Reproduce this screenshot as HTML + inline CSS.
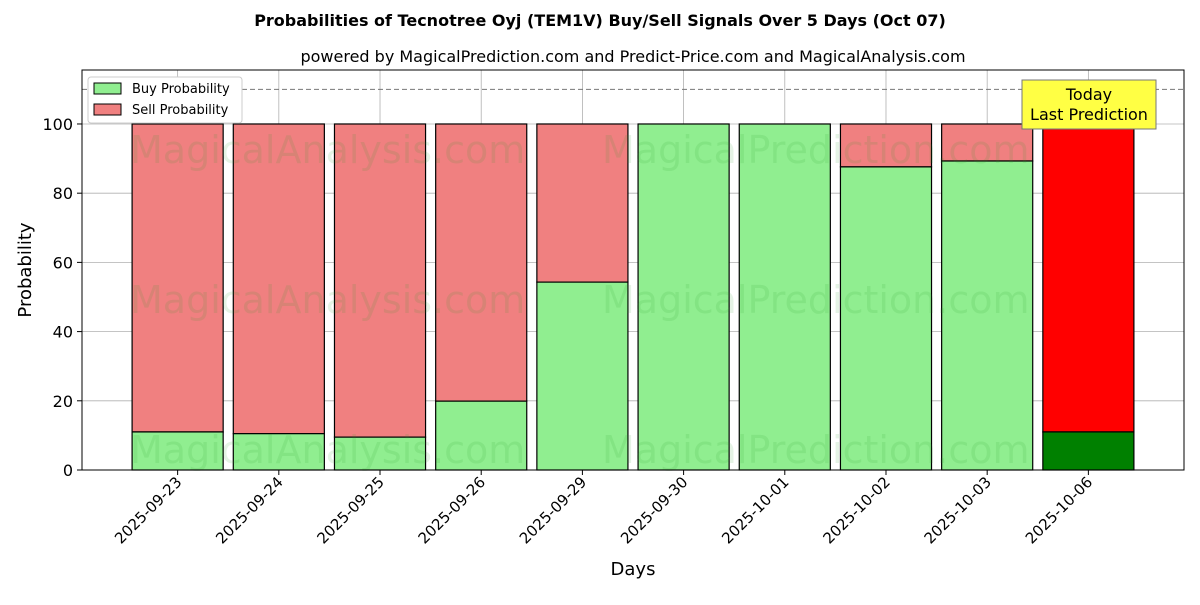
<!DOCTYPE html>
<html><head><meta charset="utf-8"><style>
body{margin:0;background:#fff;}
svg text{font-family:"DejaVu Sans","Liberation Sans",sans-serif;}
</style></head><body>
<svg id="chart" width="1200" height="600" xmlns="http://www.w3.org/2000/svg">
<rect width="1200" height="600" fill="#fff"/>
<text x="600" y="26" text-anchor="middle" font-size="16" font-weight="bold">Probabilities of Tecnotree Oyj (TEM1V) Buy/Sell Signals Over 5 Days (Oct 07)</text>
<text x="633" y="62" text-anchor="middle" font-size="16">powered by MagicalPrediction.com and Predict-Price.com and MagicalAnalysis.com</text>
<g id="grid"></g>
<g id="bars"></g>
<g id="wm" font-size="38" fill="#2ca02c" fill-opacity="0.12">
<text x="130" y="163">MagicalAnalysis.com</text>
<text x="602" y="163">MagicalPrediction.com</text>
<text x="130" y="313">MagicalAnalysis.com</text>
<text x="602" y="313">MagicalPrediction.com</text>
<text x="130" y="463">MagicalAnalysis.com</text>
<text x="602" y="463">MagicalPrediction.com</text>
</g>
<line x1="82" x2="1184" y1="89.4" y2="89.4" stroke="#777" stroke-dasharray="5,3"/>
<rect x="82" y="70" width="1102" height="400" fill="none" stroke="#000"/>
<g id="ticks"></g>
<text x="633" y="575" text-anchor="middle" font-size="18">Days</text>
<text transform="translate(31,270) rotate(-90)" text-anchor="middle" font-size="18">Probability</text>
<g>
<rect x="88" y="77" width="154" height="46" fill="#fff" stroke="#ccc" rx="3"/>
<rect x="94" y="83" width="27" height="11" fill="#90ee90" stroke="#000"/>
<text x="132" y="93" font-size="13">Buy Probability</text>
<rect x="94" y="104" width="27" height="11" fill="#f08080" stroke="#000"/>
<text x="132" y="114" font-size="13">Sell Probability</text>
</g>
<g>
<rect x="1022" y="80" width="134" height="49" fill="#ffff44" stroke="#777"/>
<text x="1089" y="100" text-anchor="middle" font-size="16">Today</text>
<text x="1089" y="120" text-anchor="middle" font-size="16">Last Prediction</text>
</g>
</svg>
<script>
const dates=["2025-09-23","2025-09-24","2025-09-25","2025-09-26","2025-09-29","2025-09-30","2025-10-01","2025-10-02","2025-10-03","2025-10-06"];
const buyValues=[11.0,10.5,9.5,19.9,54.3,100,100,87.6,89.3,11.0];
const yTicks=[0,20,40,60,80,100];
const NS="http://www.w3.org/2000/svg";
const X0=82,X1=1184,Y0=470,Y1=70,xmin=-0.945,xmax=9.945,ymin=0,ymax=115.6;
const xs=i=>X0+(i-xmin)/(xmax-xmin)*(X1-X0);
const ys=v=>Y0-(v-ymin)/(ymax-ymin)*(Y0-Y1);
function mk(t,a,p){const e=document.createElementNS(NS,t);for(const k in a)e.setAttribute(k,a[k]);p.appendChild(e);return e;}
const grid=document.getElementById('grid'),bars=document.getElementById('bars'),ticks=document.getElementById('ticks');
yTicks.forEach(v=>{
 const l=mk('line',{x1:X0,x2:X1,y1:ys(v),y2:ys(v),stroke:'#b0b0b0','stroke-width':0.8},grid);
 
 
 const tk=mk('line',{x1:X0-5,x2:X0,y1:ys(v),y2:ys(v),stroke:'#000'},ticks);
 
 
 const t=mk('text',{x:X0-9,y:ys(v)+6,'text-anchor':'end','font-size':16},ticks);t.textContent=v;
 
 
});
const bw=0.9*(xs(1)-xs(0));
dates.forEach((d,i)=>{
 const cx=xs(i);
 const l=mk('line',{x1:cx,x2:cx,y1:Y1,y2:Y0,stroke:'#b0b0b0','stroke-width':0.8},grid);
 
 
 const last=i===dates.length-1;
 const b=buyValues[i];
 const sr=mk('rect',{x:cx-bw/2,y:ys(100),width:bw,height:ys(b)-ys(100),fill:last?'#ff0000':'#f08080',stroke:'#000','stroke-width':1.2},bars);
 
 
 const br=mk('rect',{x:cx-bw/2,y:ys(b),width:bw,height:ys(0)-ys(b),fill:last?'#008000':'#90ee90',stroke:'#000','stroke-width':1.2},bars);
 
 
 const tk=mk('line',{x1:cx,x2:cx,y1:Y0,y2:Y0+5,stroke:'#000'},ticks);
 
 
 const t=mk('text',{transform:`translate(${cx+5},${Y0+13}) rotate(-45)`,'text-anchor':'end','font-size':15},ticks);t.textContent=d;
 
 
});
</script>
</body></html>
